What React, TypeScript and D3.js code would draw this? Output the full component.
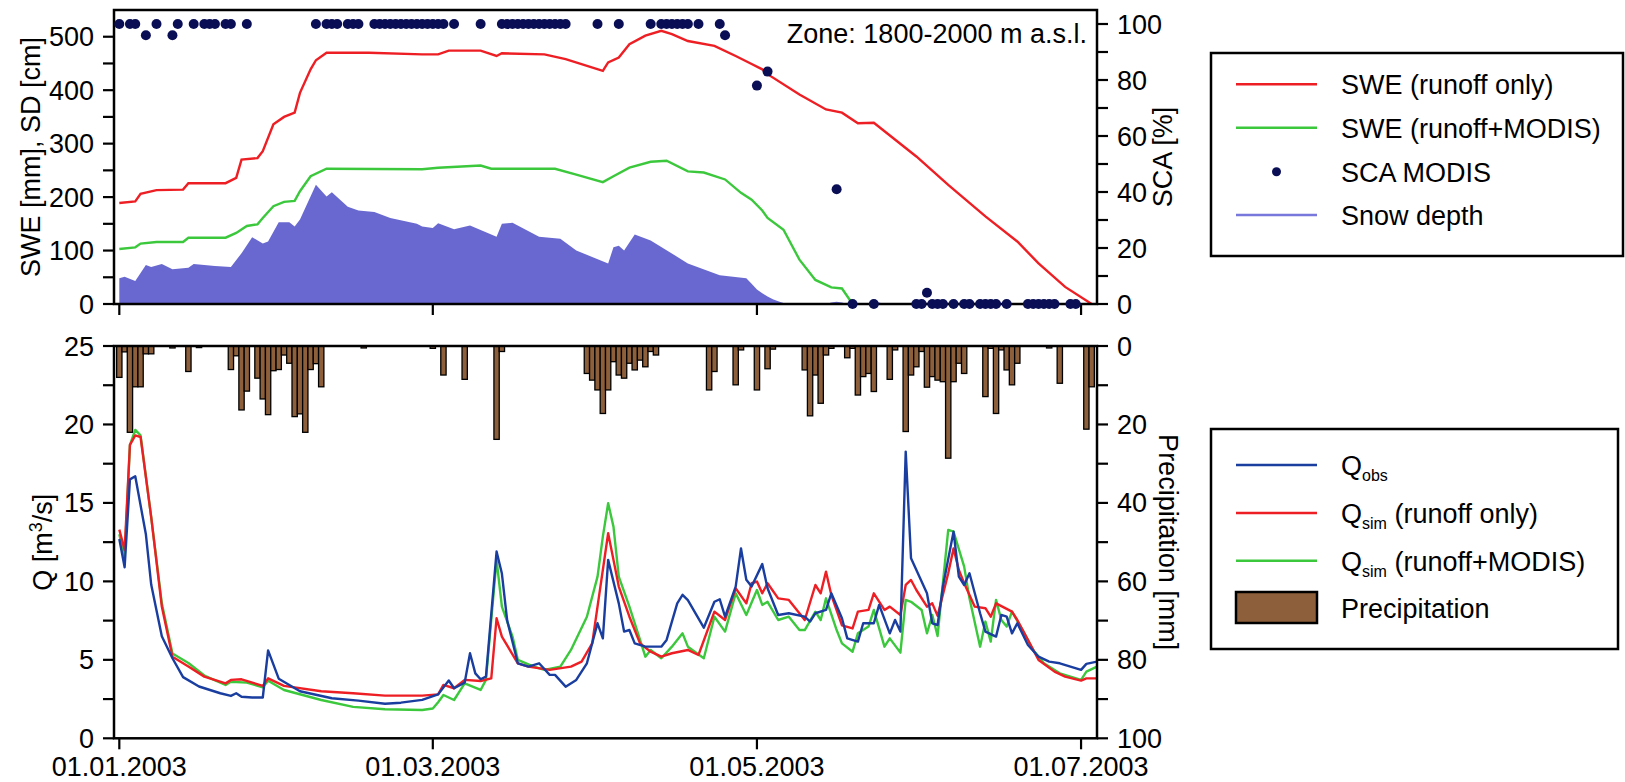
import React from 'react';
import * as d3 from 'd3';

// ---------- data (day index 0 = 01.01.2003) ----------
const tickDays = [0, 59, 120, 181];
const tickLabels = ['01.01.2003', '01.03.2003', '01.05.2003', '01.07.2003'];

const sweRunoffDays = [0, 3, 4, 7, 12, 13, 20, 22, 23, 26, 27, 29, 31, 33, 34, 36, 37, 39, 47, 57, 60, 62, 68, 71, 72, 80, 84, 91, 92, 94, 96, 99, 102, 104, 107, 112, 116, 119, 121, 122, 128, 133, 136, 139, 142, 150, 156, 163, 169, 173, 178, 183];
const sweRunoffValues = [189, 192, 206, 213, 214, 226, 226, 236, 270, 273, 286, 336, 350, 358, 395, 439, 456, 470, 470, 467, 467, 474, 474, 464, 469, 467, 458, 436, 452, 461, 486, 502, 511, 505, 492, 483, 464, 449, 439, 430, 392, 364, 358, 338, 339, 276, 223, 164, 117, 76, 32, 0];

const sweModisDays = [0, 3, 4, 7, 12, 13, 20, 22, 24, 26, 27, 29, 31, 33, 34, 36, 39, 57, 60, 68, 70, 82, 86, 91, 93, 96, 100, 103, 107, 110, 114, 117, 119, 121, 122, 125, 128, 131, 134, 136, 138];
const sweModisValues = [103, 106, 113, 116, 116, 124, 124, 133, 146, 149, 161, 183, 191, 193, 211, 239, 253, 252, 255, 259, 253, 253, 242, 228, 239, 255, 266, 268, 248, 246, 233, 208, 195, 175, 161, 139, 83, 45, 31, 29, 0];

const snowDepthDays = [0, 1, 3, 5, 6, 8, 10, 13, 14, 18, 21, 23, 25, 27, 28, 30, 32, 33, 34, 37, 39, 40, 43, 45, 48, 51, 56, 57, 59, 60, 63, 66, 71, 72, 74, 79, 83, 86, 92, 93, 94, 95, 97, 100, 107, 113, 118, 119, 120, 121, 122, 123, 124, 125, 126, 133, 134, 135, 136, 137, 141, 142, 143, 144];
const snowDepthValues = [48, 51, 43, 73, 69, 75, 65, 68, 75, 71, 69, 95, 125, 113, 117, 153, 153, 145, 158, 223, 201, 209, 182, 175, 172, 161, 150, 145, 142, 151, 140, 147, 126, 150, 152, 126, 122, 100, 76, 106, 109, 100, 130, 119, 76, 54, 48, 38, 27, 20, 14, 9, 5, 2, 0, 0, 3, 4, 3, 0, 0, 3, 3, 0];

const scaDays = [0, 2, 3, 5, 7, 10, 11, 14, 16, 17, 18, 20, 21, 24, 37, 39, 40, 41, 43, 44, 45, 48, 49, 50, 51, 52, 53, 54, 55, 56, 57, 58, 59, 60, 61, 63, 68, 72, 73, 74, 75, 76, 77, 78, 79, 80, 81, 82, 83, 84, 90, 94, 100, 102, 103, 104, 105, 106, 107, 109, 113, 114, 120, 122, 135, 138, 142, 150, 151, 152, 153, 154, 155, 157, 159, 160, 162, 163, 164, 165, 167, 171, 172, 173, 174, 175, 176, 179, 180];
const scaValues = [100, 100, 100, 96, 100, 96, 100, 100, 100, 100, 100, 100, 100, 100, 100, 100, 100, 100, 100, 100, 100, 100, 100, 100, 100, 100, 100, 100, 100, 100, 100, 100, 100, 100, 100, 100, 100, 100, 100, 100, 100, 100, 100, 100, 100, 100, 100, 100, 100, 100, 100, 100, 100, 100, 100, 100, 100, 100, 100, 100, 100, 96, 78, 83, 41, 0, 0, 0, 0, 4, 0, 0, 0, 0, 0, 0, 0, 0, 0, 0, 0, 0, 0, 0, 0, 0, 0, 0, 0];

const qObsDays = [0, 1, 2, 3, 5, 6, 8, 10, 12, 15, 19, 21, 22, 23, 25, 27, 28, 30, 34, 40, 45, 50, 53, 57, 60, 62, 63, 65, 66, 67, 68, 69, 71, 72, 73, 75, 77, 79, 81, 82, 84, 86, 88, 90, 91, 92, 94, 95, 96, 97, 99, 102, 103, 105, 106, 107, 110, 112, 113, 114, 116, 117, 118, 119, 121, 122, 124, 126, 129, 130, 131, 133, 134, 136, 137, 139, 140, 142, 143, 145, 146, 147, 148, 149, 152, 153, 154, 155, 157, 158, 159, 160, 162, 163, 165, 166, 167, 168, 169, 171, 173, 175, 177, 179, 181, 182, 184];
const qObsValues = [12.7, 10.9, 16.5, 16.7, 13.0, 9.8, 6.5, 5.1, 3.9, 3.3, 2.87, 2.7, 2.87, 2.65, 2.6, 2.6, 5.6, 3.8, 3.0, 2.55, 2.4, 2.2, 2.27, 2.45, 2.8, 3.68, 3.19, 3.55, 5.42, 4.14, 3.76, 3.93, 11.9, 10.5, 7.5, 4.78, 4.57, 4.78, 4.04, 4.04, 3.29, 3.72, 4.78, 7.33, 6.37, 11.37, 8.6, 6.8, 6.9, 6.05, 5.84, 5.84, 6.27, 8.6, 9.14, 8.8, 7.05, 8.7, 8.86, 7.75, 9.67, 12.1, 10.1, 9.67, 11.1, 9.56, 7.86, 7.97, 7.75, 7.44, 7.97, 8.18, 9.24, 7.65, 6.37, 6.16, 7.33, 7.33, 8.5, 6.69, 7.54, 6.8, 18.27, 11.47, 9.24, 7.33, 7.22, 9.67, 13.17, 10.3, 9.77, 10.52, 7.97, 6.8, 6.48, 7.86, 7.75, 6.69, 7.33, 5.95, 5.2, 4.89, 4.78, 4.57, 4.36, 4.74, 4.89];

const qRunoffDays = [0, 1, 2, 3, 4, 6, 8, 10, 13, 16, 20, 21, 23, 27, 28, 31, 38, 44, 50, 57, 60, 61, 63, 65, 68, 70, 71, 72, 75, 77, 81, 85, 87, 89, 90, 92, 93, 94, 96, 98, 100, 102, 104, 107, 109, 112, 114, 116, 118, 119, 120, 121, 122, 124, 126, 128, 129, 131, 132, 133, 134, 136, 138, 139, 141, 142, 144, 145, 147, 148, 149, 150, 152, 153, 154, 156, 157, 158, 159, 161, 163, 164, 165, 168, 169, 171, 173, 176, 178, 181, 182, 184];
const qRunoffValues = [13.3, 12.0, 18.7, 19.3, 19.2, 14.1, 8.4, 5.2, 4.57, 3.93, 3.5, 3.72, 3.76, 3.34, 3.82, 3.34, 3.0, 2.87, 2.72, 2.72, 2.8, 3.4, 3.19, 3.72, 3.65, 3.82, 7.65, 6.48, 4.78, 4.57, 4.36, 4.57, 4.89, 6.05, 8.39, 13.07, 11.37, 9.67, 7.75, 6.05, 5.52, 5.2, 5.42, 5.63, 5.31, 8.07, 7.54, 9.56, 8.6, 9.88, 9.99, 9.24, 9.88, 8.92, 8.82, 7.97, 7.54, 9.77, 9.24, 10.62, 9.13, 7.2, 7.0, 8.07, 8.18, 9.24, 8.18, 8.39, 7.86, 9.77, 10.09, 9.45, 8.39, 8.6, 7.8, 10.52, 12.1, 10.73, 9.88, 8.39, 8.29, 7.75, 8.6, 8.07, 7.54, 6.27, 4.99, 4.25, 3.93, 3.68, 3.82, 3.82];

const qModisDays = [0, 1, 2, 3, 4, 6, 8, 10, 13, 16, 20, 21, 24, 27, 28, 31, 38, 44, 50, 57, 59, 60, 61, 63, 65, 68, 69, 71, 72, 74, 75, 78, 80, 83, 85, 88, 90, 91, 92, 93, 94, 96, 98, 99, 100, 102, 104, 106, 107, 110, 112, 114, 116, 118, 120, 121, 122, 124, 126, 128, 129, 131, 132, 133, 135, 136, 138, 139, 141, 142, 144, 145, 147, 148, 149, 151, 152, 153, 154, 156, 157, 159, 160, 162, 163, 164, 165, 166, 167, 168, 170, 172, 174, 177, 179, 181, 182, 184];
const qModisValues = [13.0, 11.5, 18.7, 19.65, 19.3, 14.1, 8.6, 5.4, 4.8, 4.0, 3.4, 3.6, 3.55, 3.25, 3.67, 3.08, 2.44, 2.0, 1.85, 1.8, 1.9, 2.3, 2.76, 2.44, 3.5, 3.08, 3.72, 11.37, 8.39, 6.48, 5.0, 4.57, 4.36, 4.57, 5.63, 7.75, 10.3, 12.85, 14.98, 13.49, 10.3, 8.39, 6.27, 5.2, 5.63, 5.1, 5.84, 6.69, 5.84, 5.1, 7.75, 6.8, 9.24, 7.86, 9.45, 8.5, 8.7, 7.54, 7.75, 6.9, 6.9, 8.07, 7.54, 8.92, 6.9, 6.05, 5.52, 6.69, 7.12, 8.18, 5.84, 6.37, 5.46, 8.82, 8.7, 8.18, 6.69, 7.86, 6.52, 13.28, 13.17, 10.94, 8.92, 5.84, 7.44, 6.16, 8.82, 7.54, 7.12, 8.07, 6.9, 5.63, 4.78, 4.14, 3.93, 3.72, 4.25, 4.57];

const precipDays = [0, 1, 2, 3, 4, 5, 6, 10, 13, 15, 21, 22, 23, 24, 26, 27, 28, 29, 30, 31, 32, 33, 34, 35, 36, 37, 38, 46, 59, 61, 65, 71, 72, 88, 89, 90, 91, 92, 93, 94, 95, 96, 97, 98, 99, 100, 101, 111, 112, 116, 117, 120, 122, 123, 129, 130, 131, 132, 133, 134, 137, 138, 139, 140, 141, 142, 145, 146, 148, 149, 150, 151, 152, 153, 154, 155, 156, 157, 158, 159, 163, 164, 165, 166, 167, 168, 169, 175, 177, 182, 183];
const precipValues = [8, 1.5, 22, 10.4, 10.4, 2, 2, 0.5, 6.5, 0.4, 6, 2.5, 16.3, 11.5, 8.2, 13.5, 17.5, 6.3, 6, 2.3, 4.4, 18, 17.3, 22, 6, 4.5, 10.4, 0.5, 0.6, 7.4, 8.5, 23.8, 1.4, 7, 8.7, 11.2, 17.2, 11.2, 4, 7.4, 8.2, 4.4, 6.1, 3.6, 5.3, 1.4, 2.3, 11.2, 6.5, 9.9, 1, 11.2, 5.8, 0.8, 6.1, 17.8, 7.4, 14.6, 2.3, 0.6, 3, 0.6, 12.5, 7.8, 7, 11.6, 8.5, 1, 21.8, 7.4, 5.3, 1.4, 10.5, 7.8, 8.7, 9.1, 28.6, 9.1, 4.4, 7, 12.9, 0.6, 17.2, 1, 6.1, 9.9, 4.4, 0.5, 9.5, 21.2, 10.4];

// ---------- layout ----------
const W = 1625;
const H = 782;
const L = 114;
const R = 1097;
const TOP_T = 10;
const TOP_B = 304;
const BOT_T = 346;
const BOT_B = 738.3;
const FONT = "'Liberation Sans', Arial, Helvetica, sans-serif";
const FS = 27;

const C_RED = '#ee1f24';
const C_GREEN = '#3cc83c';
const C_BLUE = '#1a3ea0';
const C_SD = '#6868d0';
const C_DOT = '#0a0f55';
const C_BROWN = '#8d5f3a';

const day0 = Date.UTC(2003, 0, 1);
const toDate = (d: number) => new Date(day0 + d * 864e5);

export default function App() {
  const x = d3
    .scaleUtc()
    .domain([new Date(Date.UTC(2002, 11, 31)), new Date(Date.UTC(2003, 6, 4))])
    .range([L, R]);
  const xd = (d: number) => x(toDate(d));

  const ySwe = d3.scaleLinear().domain([0, 550]).range([TOP_B, TOP_T]);
  const ySca = d3.scaleLinear().domain([0, 105]).range([TOP_B, TOP_T]);
  const yQ = d3.scaleLinear().domain([0, 25]).range([BOT_B, BOT_T]);
  const yP = d3.scaleLinear().domain([0, 100]).range([BOT_T, BOT_B]);

  const pairs = (ds: number[], vs: number[]) => ds.map((d, i) => [d, vs[i]] as [number, number]);

  const lineSwe = d3.line<[number, number]>().x((p) => xd(p[0])).y((p) => ySwe(p[1]));
  const areaSd = d3
    .area<[number, number]>()
    .x((p) => xd(p[0]))
    .y0(ySwe(0))
    .y1((p) => ySwe(p[1]));
  const lineQ = d3.line<[number, number]>().x((p) => xd(p[0])).y((p) => yQ(p[1]));

  const barW = xd(1) - xd(0);

  const leftTopTicks = d3.range(0, 501, 50);
  const rightTopTicks = d3.range(0, 101, 10);
  const leftBotTicks = d3.range(0, 25.001, 2.5);
  const rightBotTicks = d3.range(0, 101, 10);

  const tickLen = 11;
  const axisW = 2.5;

  const legendTopRows = [84.3, 127.7, 171.7, 215];
  const legendBotRows = [465, 513, 560.7, 607.5];
  const lx1 = 1236;
  const lx2 = 1317;
  const tx = 1341;

  return (
    <svg
      width={W}
      height={H}
      viewBox={`0 0 ${W} ${H}`}
      style={{ position: 'absolute', left: 0, top: 0, display: 'block', background: '#fff' }}
      fontFamily={FONT}
    >
      <defs>
        <clipPath id="clipTop">
          <rect x={L} y={TOP_T} width={R - L} height={TOP_B - TOP_T} />
        </clipPath>
        <clipPath id="clipBot">
          <rect x={L} y={BOT_T} width={R - L} height={BOT_B - BOT_T} />
        </clipPath>
      </defs>
      <rect x={0} y={0} width={W} height={H} fill="#fff" />

      {/* ---------- TOP PANEL ---------- */}
      <g clipPath="url(#clipTop)">
        <path d={areaSd(pairs(snowDepthDays, snowDepthValues)) || ''} fill={C_SD} />
        <path d={lineSwe(pairs(sweModisDays, sweModisValues)) || ''} fill="none" stroke={C_GREEN} strokeWidth={2.4} />
        <path d={lineSwe(pairs(sweRunoffDays, sweRunoffValues)) || ''} fill="none" stroke={C_RED} strokeWidth={2.4} />
      </g>
      <rect x={L} y={TOP_T} width={R - L} height={TOP_B - TOP_T} fill="none" stroke="#000" strokeWidth={axisW} />
      {leftTopTicks.map((v) => (
        <g key={'lt' + v}>
          <line x1={L - tickLen} x2={L} y1={ySwe(v)} y2={ySwe(v)} stroke="#000" strokeWidth={2.2} />
          {v % 100 === 0 && (
            <text x={94} y={ySwe(v) + 9.5} fontSize={FS} textAnchor="end">
              {v}
            </text>
          )}
        </g>
      ))}
      {rightTopTicks.map((v) => (
        <g key={'rt' + v}>
          <line x1={R} x2={R + tickLen} y1={ySca(v)} y2={ySca(v)} stroke="#000" strokeWidth={2.2} />
          {v % 20 === 0 && (
            <text x={1117} y={ySca(v) + 9.5} fontSize={FS}>
              {v}
            </text>
          )}
        </g>
      ))}
      {tickDays.map((d) => (
        <line key={'tx' + d} x1={xd(d)} x2={xd(d)} y1={TOP_B} y2={TOP_B + tickLen} stroke="#000" strokeWidth={2.2} />
      ))}
      {scaDays.map((d, i) => (
        <circle key={'sca' + i} cx={xd(d)} cy={ySca(scaValues[i])} r={5} fill={C_DOT} />
      ))}
      <text x={1087} y={43} fontSize={FS} textAnchor="end">
        Zone: 1800-2000 m a.s.l.
      </text>
      <text transform={`translate(40,${(TOP_T + TOP_B) / 2}) rotate(-90)`} fontSize={FS} textAnchor="middle">
        SWE [mm], SD [cm]
      </text>
      <text transform={`translate(1172,${(TOP_T + TOP_B) / 2}) rotate(-90)`} fontSize={FS} textAnchor="middle">
        SCA [%]
      </text>

      {/* ---------- BOTTOM PANEL ---------- */}
      <g clipPath="url(#clipBot)">
        {precipDays.map((d, i) => (
          <rect
            key={'p' + i}
            x={xd(d) - barW / 2}
            y={yP(0)}
            width={barW}
            height={yP(precipValues[i]) - yP(0)}
            fill={C_BROWN}
            stroke="#000"
            strokeWidth={1.3}
          />
        ))}
        <path d={lineQ(pairs(qModisDays, qModisValues)) || ''} fill="none" stroke={C_GREEN} strokeWidth={2.4} strokeLinejoin="round" />
        <path d={lineQ(pairs(qRunoffDays, qRunoffValues)) || ''} fill="none" stroke={C_RED} strokeWidth={2.4} strokeLinejoin="round" />
        <path d={lineQ(pairs(qObsDays, qObsValues)) || ''} fill="none" stroke={C_BLUE} strokeWidth={2.4} strokeLinejoin="round" />
      </g>
      <rect x={L} y={BOT_T} width={R - L} height={BOT_B - BOT_T} fill="none" stroke="#000" strokeWidth={axisW} />
      {leftBotTicks.map((v) => (
        <g key={'lb' + v}>
          <line x1={L - tickLen} x2={L} y1={yQ(v)} y2={yQ(v)} stroke="#000" strokeWidth={2.2} />
          {v % 5 === 0 && (
            <text x={94} y={yQ(v) + 9.5} fontSize={FS} textAnchor="end">
              {v}
            </text>
          )}
        </g>
      ))}
      {rightBotTicks.map((v) => (
        <g key={'rb' + v}>
          <line x1={R} x2={R + tickLen} y1={yP(v)} y2={yP(v)} stroke="#000" strokeWidth={2.2} />
          {v % 20 === 0 && (
            <text x={1117} y={yP(v) + 9.5} fontSize={FS}>
              {v}
            </text>
          )}
        </g>
      ))}
      {tickDays.map((d, i) => (
        <g key={'bx' + d}>
          <line x1={xd(d)} x2={xd(d)} y1={BOT_B} y2={BOT_B + tickLen} stroke="#000" strokeWidth={2.2} />
          <text x={xd(d)} y={776} fontSize={FS} textAnchor="middle">
            {tickLabels[i]}
          </text>
        </g>
      ))}
      <text transform={`translate(52,${(BOT_T + BOT_B) / 2}) rotate(-90)`} fontSize={FS} textAnchor="middle">
        Q [m
        <tspan fontSize={18} dy={-10}>
          3
        </tspan>
        <tspan dy={10}>/s]</tspan>
      </text>
      <text transform={`translate(1159,${(BOT_T + BOT_B) / 2}) rotate(90)`} fontSize={FS} textAnchor="middle">
        Precipitation [mm]
      </text>

      {/* ---------- LEGEND TOP ---------- */}
      <rect x={1211} y={53} width={412} height={203} fill="#fff" stroke="#000" strokeWidth={2.5} />
      <line x1={lx1} x2={lx2} y1={legendTopRows[0]} y2={legendTopRows[0]} stroke={C_RED} strokeWidth={2.5} />
      <text x={tx} y={legendTopRows[0] + 10} fontSize={FS}>SWE (runoff only)</text>
      <line x1={lx1} x2={lx2} y1={legendTopRows[1]} y2={legendTopRows[1]} stroke={C_GREEN} strokeWidth={2.5} />
      <text x={tx} y={legendTopRows[1] + 10} fontSize={FS}>SWE (runoff+MODIS)</text>
      <circle cx={(lx1 + lx2) / 2} cy={legendTopRows[2]} r={4.5} fill={C_DOT} />
      <text x={tx} y={legendTopRows[2] + 10} fontSize={FS}>SCA MODIS</text>
      <line x1={lx1} x2={lx2} y1={legendTopRows[3]} y2={legendTopRows[3]} stroke="#7878dc" strokeWidth={2.5} />
      <text x={tx} y={legendTopRows[3] + 10} fontSize={FS}>Snow depth</text>

      {/* ---------- LEGEND BOTTOM ---------- */}
      <rect x={1211} y={429} width={407} height={220} fill="#fff" stroke="#000" strokeWidth={2.5} />
      <line x1={lx1} x2={lx2} y1={legendBotRows[0]} y2={legendBotRows[0]} stroke={C_BLUE} strokeWidth={2.5} />
      <text x={tx} y={legendBotRows[0] + 10} fontSize={FS}>
        Q<tspan fontSize={16} dy={6}>obs</tspan>
      </text>
      <line x1={lx1} x2={lx2} y1={legendBotRows[1]} y2={legendBotRows[1]} stroke={C_RED} strokeWidth={2.5} />
      <text x={tx} y={legendBotRows[1] + 10} fontSize={FS}>
        Q<tspan fontSize={16} dy={6}>sim</tspan>
        <tspan dy={-6}> (runoff only)</tspan>
      </text>
      <line x1={lx1} x2={lx2} y1={legendBotRows[2]} y2={legendBotRows[2]} stroke={C_GREEN} strokeWidth={2.5} />
      <text x={tx} y={legendBotRows[2] + 10} fontSize={FS}>
        Q<tspan fontSize={16} dy={6}>sim</tspan>
        <tspan dy={-6}> (runoff+MODIS)</tspan>
      </text>
      <rect x={lx1} y={legendBotRows[3] - 15.5} width={lx2 - lx1} height={31} fill={C_BROWN} stroke="#000" strokeWidth={2.5} />
      <text x={tx} y={legendBotRows[3] + 10} fontSize={FS}>Precipitation</text>
    </svg>
  );
}
